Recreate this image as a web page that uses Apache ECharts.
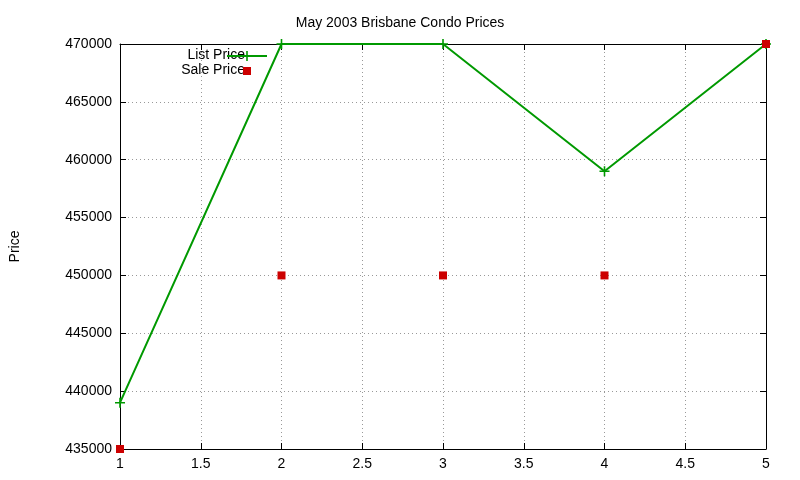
<!DOCTYPE html>
<html><head><meta charset="utf-8">
<script src="https://cdn.jsdelivr.net/npm/echarts@6/dist/echarts.min.js"></script>
<style>html,body{margin:0;padding:0;background:#fff}#c{width:800px;height:480px}</style>
</head><body><div id="c"></div>
<script>
const xValues=[1,2,3,4,5];
const listPrice=[439000,470000,470000,459000,470000];
const salePrice=[435000,450000,450000,450000,470000];
const chart=echarts.init(document.getElementById('c'));
const font='Liberation Sans, Arial, sans-serif';
const cross='path://M4.2,0L5.8,0L5.8,4.2L10,4.2L10,5.8L5.8,5.8L5.8,10L4.2,10L4.2,5.8L0,5.8L0,4.2L4.2,4.2Z';
const ax={axisLine:{lineStyle:{color:'#000'}},axisTick:{inside:true,length:6,lineStyle:{color:'#000'}},splitLine:{show:false},axisLabel:{show:false}};
chart.setOption({
  animation:false,
  title:{text:'May 2003 Brisbane Condo Prices',left:'center',top:11,textStyle:{fontFamily:font,fontSize:14,fontWeight:'normal',color:'#000'}},
  grid:{left:118,right:34,top:44,bottom:31},
  graphic:[
    {type:'text',right:800-245,top:48,style:{text:'List Price',font:'14px '+font,fill:'#000',textAlign:'right'}},
    {type:'line',shape:{x1:227,y1:56,x2:267,y2:56},style:{stroke:'#009900',lineWidth:2}},
    {type:'line',shape:{x1:247,y1:51,x2:247,y2:61},style:{stroke:'#009900',lineWidth:1.6}},
    {type:'text',right:800-245,top:63,style:{text:'Sale Price',font:'14px '+font,fill:'#000',textAlign:'right'}},
    {type:'rect',shape:{x:243,y:67,width:8,height:8},style:{fill:'#cc0000'}}
  ],
  xAxis:[{type:'value',min:1,max:5,interval:0.5,position:'bottom',
    axisLine:{lineStyle:{color:'#000'}},axisTick:{inside:true,length:6,lineStyle:{color:'#000'}},
    axisLabel:{color:'#000',fontFamily:font,fontSize:14,margin:8},
    splitLine:{show:true,lineStyle:{color:'#999',type:[1,3]}}},
    Object.assign({type:'value',min:1,max:5,interval:0.5,position:'top'},ax)],
  yAxis:[{type:'value',min:435000,max:470000,interval:5000,name:'Price',nameLocation:'middle',nameGap:98,nameRotate:90,
    nameTextStyle:{fontFamily:font,fontSize:14,color:'#000'},
    axisLine:{show:true,lineStyle:{color:'#000'}},axisTick:{show:true,inside:true,length:6,lineStyle:{color:'#000'}},
    axisLabel:{color:'#000',fontFamily:font,fontSize:14,margin:8,formatter:v=>String(v)},
    splitLine:{show:true,lineStyle:{color:'#999',type:[1,3]}}},
    Object.assign({type:'value',min:435000,max:470000,interval:5000,position:'right'},ax,{axisLine:{show:true,lineStyle:{color:'#000'}},axisTick:{show:true,inside:true,length:6,lineStyle:{color:'#000'}}})],
  series:[
    {name:'List Price',type:'line',data:xValues.map((x,i)=>[x,listPrice[i]]),
      lineStyle:{color:'#009900',width:2},itemStyle:{color:'#009900'},
      symbol:cross,symbolSize:10,showSymbol:true,z:3},
    {name:'Sale Price',type:'scatter',data:xValues.map((x,i)=>[x,salePrice[i]]),
      symbol:'rect',symbolSize:8,itemStyle:{color:'#cc0000',opacity:1},z:4}
  ]
});
</script></body></html>
